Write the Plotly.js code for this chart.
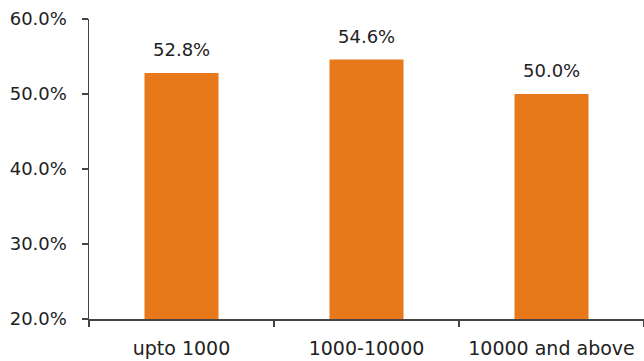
<!DOCTYPE html>
<html>
<head>
<meta charset="utf-8">
<script src="https://cdn.plot.ly/plotly-3.0.1.min.js"></script>
<style>
  html, body { margin: 0; padding: 0; background: #fff; }
  #chart { width: 644px; height: 361px; }
</style>
</head>
<body>
<div id="chart"></div>
<script>
// Share by size band
const categories = ['upto 1000', '1000-10000', '10000 and above'];
const shares = [52.8, 54.6, 50.0];
const yTicks = [20, 30, 40, 50, 60];
const yTickLabels = ['20.0%', '30.0%', '40.0%', '50.0%', '60.0%'];

const axisFloor = 20;
const barColor = '#E7791A';
const fontFamily = '"DejaVu Sans", sans-serif';
const textColor = '#222';

// bars start at the bottom of the value axis
const trace = {
  type: 'bar',
  x: categories,
  y: shares.map(v => v - axisFloor),
  base: axisFloor,
  marker: { color: barColor },
  hoverinfo: 'skip'
};

const annotations = categories.map((c, i) => ({
  x: c,
  y: shares[i],
  xref: 'x',
  yref: 'y',
  text: shares[i].toFixed(1) + '%',
  showarrow: false,
  yanchor: 'bottom',
  yshift: 11,
  font: { family: fontFamily, size: 18, color: textColor }
}));

const layout = {
  width: 644,
  height: 361,
  margin: { l: 89, r: 0, t: 19, b: 42, pad: 0 },
  paper_bgcolor: '#fff',
  plot_bgcolor: '#fff',
  showlegend: false,
  bargap: 0.6,
  font: { family: fontFamily, size: 18, color: textColor },
  xaxis: {
    type: 'category',
    range: [-0.5, 2.5],
    showline: true,
    linecolor: '#444',
    linewidth: 1.5,
    ticks: 'outside',
    tickson: 'boundaries',
    ticklen: 6,
    tickcolor: '#444',
    tickwidth: 1.5,
    ticklabelstandoff: 12,
    showgrid: false,
    zeroline: false,
    tickfont: { family: fontFamily, size: 19, color: textColor }
  },
  yaxis: {
    range: [axisFloor, 60],
    tickvals: yTicks,
    ticktext: yTickLabels,
    showline: true,
    linecolor: '#444',
    linewidth: 1.5,
    ticks: 'outside',
    ticklen: 6,
    tickcolor: '#444',
    tickwidth: 1.5,
    ticklabelstandoff: 11,
    showgrid: false,
    zeroline: false,
    tickfont: { family: fontFamily, size: 18, color: textColor }
  },
  annotations: annotations
};

Plotly.newPlot('chart', [trace], layout, { displayModeBar: false, staticPlot: true });
</script>
</body>
</html>
